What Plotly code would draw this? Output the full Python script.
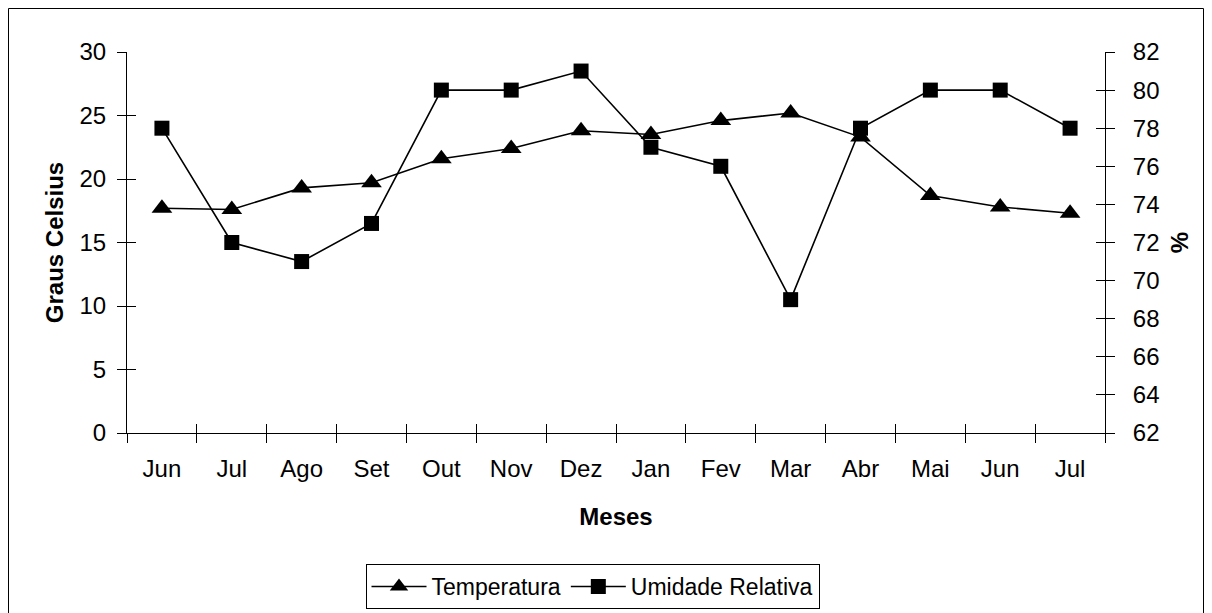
import plotly.graph_objects as go

months = ["Jun", "Jul", "Ago", "Set", "Out", "Nov", "Dez", "Jan", "Fev", "Mar", "Abr", "Mai", "Jun", "Jul"]
temperatura = [17.7, 17.6, 19.3, 19.7, 21.6, 22.4, 23.8, 23.5, 24.6, 25.2, 23.3, 18.7, 17.8, 17.3]
umidade = [78, 72, 71, 73, 80, 80, 81, 77, 76, 69, 78, 80, 80, 78]
left_ticks = [0, 5, 10, 15, 20, 25, 30]
right_ticks = [62, 64, 66, 68, 70, 72, 74, 76, 78, 80, 82]

xpos = list(range(len(months)))
bounds = [i - 0.5 for i in range(len(months) + 1)]
xr = [-0.5, len(months) - 0.5]

FONT = "Liberation Sans, Arial, sans-serif"

fig = go.Figure()
fig.add_trace(go.Scatter(x=xpos, y=temperatura, name="Temperatura", mode="lines+markers",
                         line=dict(color="black", width=1.6),
                         marker=dict(symbol="triangle-up", size=18, color="black"),
                         xaxis="x", yaxis="y"))
fig.add_trace(go.Scatter(x=xpos, y=umidade, name="Umidade Relativa", mode="lines+markers",
                         line=dict(color="black", width=1.6),
                         marker=dict(symbol="square", size=15, color="black"),
                         xaxis="x", yaxis="y2"))
# empty traces so the tick-only overlay axes get drawn
fig.add_trace(go.Scatter(x=[None], y=[None], xaxis="x2", yaxis="y3", showlegend=False, hoverinfo="skip"))
fig.add_trace(go.Scatter(x=[None], y=[None], xaxis="x3", yaxis="y4", showlegend=False, hoverinfo="skip"))

W, H = 1196, 640
L, T = 119, 44
pw, ph = 978, 381
R, B = W - L - pw, H - T - ph

tickfont = dict(family=FONT, size=24, color="black")
titlefont = dict(family=FONT, size=24, color="black")
common_y = dict(showgrid=False, zeroline=False, tickfont=tickfont)
TL = 9

fig.update_layout(
    width=W, height=H,
    margin=dict(l=L, r=R, t=T, b=B),
    paper_bgcolor="white", plot_bgcolor="white",
    font=dict(family=FONT, size=23, color="black"),
    showlegend=True,
    legend=dict(orientation="h", x=(592.5 - 8 - L) / pw, xanchor="center", y=(T + ph - 556) / ph,
                yanchor="top", bordercolor="black", borderwidth=1,
                font=dict(family=FONT, size=23, color="black"),
                itemwidth=55, tracegroupgap=0),
    xaxis=dict(range=xr, tickmode="array", tickvals=xpos, ticktext=months, ticks="",
               showline=True, linecolor="black", linewidth=1, showgrid=False, zeroline=False,
               tickfont=tickfont, ticklabelstandoff=14,
               title=dict(text="<b>Meses</b>", font=titlefont, standoff=27)),
    xaxis2=dict(range=xr, overlaying="x", anchor="y3", side="bottom", tickmode="array", tickvals=bounds,
                ticks="outside", ticklen=TL, tickcolor="black", showticklabels=False,
                showline=False, showgrid=False, zeroline=False),
    xaxis3=dict(range=xr, overlaying="x", anchor="y4", side="bottom", tickmode="array", tickvals=bounds,
                ticks="inside", ticklen=TL, tickcolor="black", showticklabels=False,
                showline=False, showgrid=False, zeroline=False),
    yaxis=dict(range=[0, 30], tickmode="array", tickvals=left_ticks, ticks="outside", ticklen=TL,
               tickcolor="black", showline=True, linecolor="black", linewidth=1,
               ticklabelstandoff=6,
               title=dict(text="<b>Graus Celsius</b>", font=titlefont, standoff=9),
               **common_y),
    yaxis2=dict(range=[62, 82], overlaying="y", side="right", anchor="x", tickmode="array",
                tickvals=right_ticks, ticks="outside", ticklen=TL, tickcolor="black",
                showline=True, linecolor="black", linewidth=1, ticklabelstandoff=13,
                title=dict(text="<b>%</b>", font=titlefont, standoff=12),
                **common_y),
    yaxis3=dict(range=[0, 30], overlaying="y", side="left", anchor="x2", tickmode="array",
                tickvals=left_ticks, ticks="inside", ticklen=TL, tickcolor="black",
                showticklabels=False, showline=False, showgrid=False, zeroline=False),
    yaxis4=dict(range=[62, 82], overlaying="y", side="right", anchor="x3", tickmode="array",
                tickvals=right_ticks, ticks="inside", ticklen=TL, tickcolor="black",
                showticklabels=False, showline=False, showgrid=False, zeroline=False),
    shapes=[dict(type="rect", xref="paper", yref="paper",
                 x0=(0.5 - L) / pw, x1=(W - 0.5 - L) / pw,
                 y0=(T + ph - (H - 0.5)) / ph, y1=(T + ph - 0.5) / ph,
                 line=dict(color="black", width=1), fillcolor="rgba(0,0,0,0)", layer="below")],
)

fig.write_html("out.html")
